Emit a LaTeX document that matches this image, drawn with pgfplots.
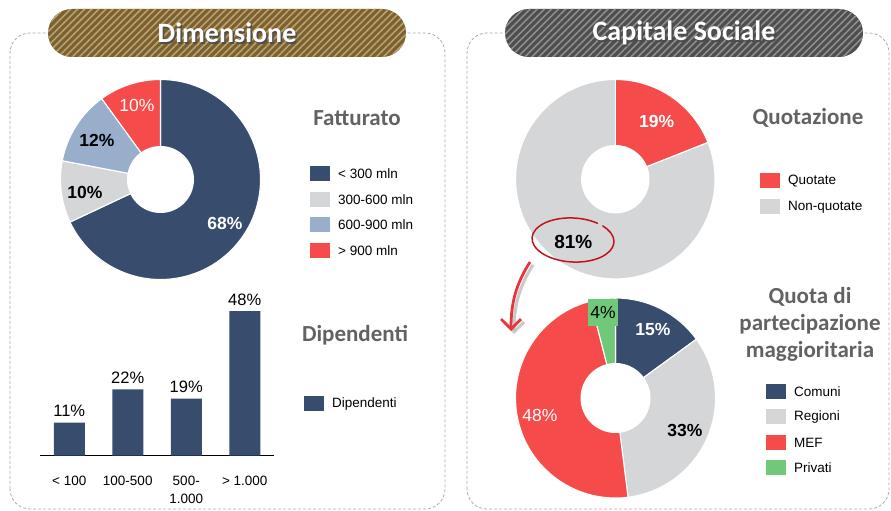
\documentclass[border=0pt]{standalone}
\usepackage{fontspec}
\setmainfont{Liberation Sans}
\newfontfamily\calfont{Carlito}
\usepackage{pgfplots}
\pgfplotsset{compat=1.18}
\usetikzlibrary{patterns.meta,arrows.meta}
\definecolor{dblue}{HTML}{384D6E}
\definecolor{lgray}{HTML}{D5D6D8}
\definecolor{bgray}{HTML}{98AECB}
\definecolor{pred}{HTML}{F54B4A}
\definecolor{pgreen}{HTML}{70C979}
\definecolor{tgray}{HTML}{626262}
\definecolor{brownbase}{HTML}{7E6128}
\definecolor{brownstripe}{HTML}{B3A07C}
\definecolor{graybase}{HTML}{4E4E4E}
\definecolor{graystripe}{HTML}{8E8E8E}
\definecolor{circred}{HTML}{C0141B}
\definecolor{arrred}{HTML}{E8343A}
\newcommand\fs[1]{\fontsize{#1}{#1}\selectfont}
% donut: cx, cy, R, r, {value/colour,...}
\newcommand\donut[5]{%
  \gdef\startang{0}%
  \foreach \v/\c in {#5}{%
    \pgfmathsetmacro\a{90-\startang*3.6}%
    \pgfmathsetmacro\b{90-(\startang+\v)*3.6}%
    \fill[\c, draw=white, line width=1.1pt] (#1pt,#2pt) -- ++(\a:#3pt) arc[start angle=\a, end angle=\b, radius=#3pt] -- cycle;%
    \pgfmathsetmacro\n{\startang+\v}\xdef\startang{\n}%
  }%
  \fill[white] (#1pt,#2pt) circle[radius=#4pt];%
}
\newcommand\legsq[4]{% x y colour text
  \fill[#3] (#1pt,#2pt-7.5pt) rectangle ++(20pt,15pt);
  \node[anchor=west, inner sep=0pt, font=\fs{13.5}] at (#1pt+28pt,#2pt) {#4};
}
\begin{document}
\begin{tikzpicture}[x=1pt,y=1pt]
\useasboundingbox (0,0) rectangle (891,511);
% panels
\draw[gray!65, line width=0.8pt, dash pattern=on 3pt off 2pt, rounded corners=20pt] (10,2) rectangle (445,478);
\draw[gray!65, line width=0.8pt, dash pattern=on 3pt off 2pt, rounded corners=20pt] (467,2) rectangle (889,478);
% header pills
\fill[brownbase, rounded corners=24pt] (48,454) rectangle (406,502);
\fill[pattern={Lines[angle=45,distance=5pt,line width=1.6pt]}, pattern color=brownstripe, rounded corners=24pt] (48,454) rectangle (406,502);
\fill[graybase, rounded corners=24pt] (505,454) rectangle (863,502);
\fill[pattern={Lines[angle=45,distance=5pt,line width=1.6pt]}, pattern color=graystripe, rounded corners=24pt] (505,454) rectangle (863,502);
\node[text=black!70, font=\calfont\bfseries\fs{28}] at (228.5,476.5) {Dimensione};
\node[text=white, font=\calfont\bfseries\fs{28}] at (227,478) {Dimensione};
\node[text=black!70, font=\calfont\bfseries\fs{28}] at (685.5,476.5) {Capitale Sociale};
\node[text=white, font=\calfont\bfseries\fs{28}] at (684,478) {Capitale Sociale};

% Fatturato donut
\donut{160.5}{331.5}{100}{33.5}{68/dblue,10/lgray,12/bgray,10/pred}
\node[text=white, font=\fs{17.5}] at (137,406) {10\%};
\node[text=black, font=\bfseries\fs{17.5}] at (97,371) {12\%};
\node[text=black, font=\bfseries\fs{17.5}] at (85,319) {10\%};
\node[text=white, font=\bfseries\fs{17.5}] at (225,288) {68\%};
% Fatturato legend
\node[text=tgray, font=\calfont\bfseries\fs{23}] at (357,393) {Fatturato};
\legsq{310}{337}{dblue}{< 300 mln}
\legsq{310}{311.5}{lgray}{300-600 mln}
\legsq{310}{286}{bgray}{600-900 mln}
\legsq{310}{260}{pred}{> 900 mln}

% Dipendenti bars
\begin{axis}[
  at={(40pt,55.3pt)}, anchor=south west,
  scale only axis, width=234pt, height=150.5pt,
  xmin=-0.5, xmax=3.5, ymin=0, ymax=50,
  axis x line=bottom, axis y line=none,
  x axis line style={-, line width=1pt, black},
  ybar, bar width=31pt,
  xtick={0,1,2,3},
  xticklabels={{< 100},{100-500},{500-\\1.000},{> 1.000}},
  xtick style={draw=none}, ytick=\empty,
  xticklabel style={font=\fontsize{13.5}{18}\selectfont, align=center, anchor=north, yshift=-13pt},
  /pgf/number format/assume math mode=true,
  nodes near coords={\pgfmathprintnumber{\pgfplotspointmeta}\%},
  nodes near coords style={font=\fs{16.5}, text=black, yshift=2pt},
  clip=false,
]
\addplot[fill=dblue, draw=none] coordinates {(0,11) (1,22) (2,19) (3,48)};
\end{axis}
\node[text=tgray, font=\calfont\bfseries\fs{23}] at (355,176) {Dipendenti};
\legsq{304}{107}{dblue}{Dipendenti}

% Quotazione donut
\donut{615.3}{331.8}{99.7}{34.2}{19/pred,81/lgray}
\node[text=white, font=\bfseries\fs{17.5}] at (656.7,389.3) {19\%};
\node[text=black, font=\bfseries\fs{19}] at (573.3,269.3) {81\%};
\draw[circred, line width=1.5pt, line cap=round, rotate around={-3:(573,271)}]
  ({573+41*cos(55)},{271+22*sin(55)}) arc[start angle=55, end angle=405, x radius=41pt, y radius=22pt];
\node[text=tgray, font=\calfont\bfseries\fs{23}] at (808,393) {Quotazione};
\legsq{760}{330}{pred}{Quotate}
\legsq{760}{304}{lgray}{Non-quotate}

% arrow
\draw[black!35, opacity=0.6, line width=3pt, -{Straight Barb[length=10pt,width=20pt]}] (533,246) .. controls (519,224) and (514,205) .. (514,177);
\draw[arrred, line width=2.8pt, -{Straight Barb[length=10pt,width=20pt]}] (530,249) .. controls (516,227) and (511,208) .. (511,180);

% Quota di partecipazione donut
\donut{615.5}{113}{100}{35}{15/dblue,33/lgray,48/pred,4/pgreen}
\fill[pgreen] (588,185) rectangle (618,212);
\node[text=black, font=\fs{17.5}] at (603,198.5) {4\%};
\node[text=white, font=\bfseries\fs{17.5}] at (653,181) {15\%};
\node[text=black, font=\bfseries\fs{17.5}] at (685,81) {33\%};
\node[text=white, font=\fs{17.5}] at (540,96) {48\%};
\node[text=tgray, font=\calfont\bfseries\fs{23}, align=center] at (810,187) {Quota di\\[4pt]partecipazione\\[4pt]maggioritaria};
\legsq{766}{119}{dblue}{Comuni}
\legsq{766}{94}{lgray}{Regioni}
\legsq{766}{68}{pred}{MEF}
\legsq{766}{43}{pgreen}{Privati}
\end{tikzpicture}
\end{document}
